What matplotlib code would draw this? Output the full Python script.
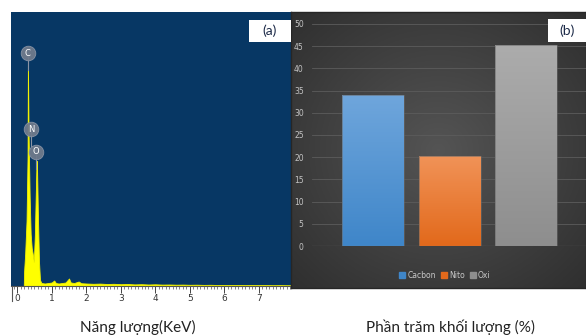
import numpy as np
import matplotlib
matplotlib.use("Agg")
import matplotlib.pyplot as plt
from matplotlib.patches import Rectangle
from matplotlib.lines import Line2D
from matplotlib.ticker import MultipleLocator

# ---- EDS spectrum (energy in keV, counts in arbitrary units) ----
energy_kev = [0.00, 0.19, 0.20, 0.23, 0.27, 0.30, 0.31, 0.33, 0.36, 0.39, 0.42,
              0.45, 0.48, 0.51, 0.54, 0.56, 0.57, 0.60, 0.63, 0.66, 0.70,
              0.80, 0.90, 1.00, 1.07, 1.12, 1.20, 1.30, 1.40, 1.50, 1.55,
              1.65, 1.78, 1.85, 2.00, 2.20, 2.40, 2.60, 2.80, 3.00, 3.20,
              3.40, 3.60, 3.80, 4.00, 4.20, 4.40, 4.60, 4.80, 5.00, 5.20,
              5.40, 5.60, 5.80, 6.00, 6.20, 6.40, 6.60, 6.80, 7.00, 7.20,
              7.40, 7.60, 7.80, 7.97]
counts = [0, 0, 150, 320, 650, 1300, 2250, 1500, 900, 520, 380,
          320, 240, 500, 950, 1250, 1250, 700, 250, 60, 30,
          25, 30, 35, 55, 30, 25, 30, 35, 75, 35,
          30, 45, 28, 25, 22, 24, 20, 22, 18, 20,
          16, 18, 15, 17, 14, 15, 13, 14, 12, 13,
          11, 12, 10, 11, 10, 11, 9, 10, 9, 10,
          8, 9, 8, 8]

peak_labels = ["C", "N", "O"]
peak_energy = [0.31, 0.40, 0.55]
peak_label_counts = [2330, 1570, 1340]

# ---- mass percentage of elements ----
elements = ["Cacbon", "Nito", "Oxi"]
mass_percent = [34.1, 20.3, 45.3]
tick_values = [0, 5, 10, 15, 20, 25, 30, 35, 40, 45, 50]

W, H = 586, 336


def box(x0, y0, x1, y1):
    return [x0 / W, 1 - y1 / H, (x1 - x0) / W, (y1 - y0) / H]


fig = plt.figure(figsize=(W / 100, H / 100), dpi=100)
fig.patch.set_facecolor("white")

# ================= (a) EDS spectrum =================
ax1 = fig.add_axes(box(11, 12, 291, 286))
ax1.set_facecolor("#073764")
ax1.fill_between(energy_kev, counts, 0, color="#ffff00", lw=0.6,
                 edgecolor="#f2f200")
ax1.set_xlim(-0.18, 7.93)
ax1.set_ylim(0, 2740)
for s in ("top", "left", "right"):
    ax1.spines[s].set_visible(False)
ax1.spines["bottom"].set_color("#555555")
ax1.spines["bottom"].set_linewidth(0.8)
ax1.set_yticks([])
ax1.xaxis.set_major_locator(MultipleLocator(1))
ax1.xaxis.set_minor_locator(MultipleLocator(0.1))
ax1.tick_params(axis="x", which="major", length=5, width=0.7,
                color="#444444", labelsize=6.5, labelcolor="#333333", pad=1)
ax1.tick_params(axis="x", which="minor", length=2.5, width=0.5,
                color="#555555")
ax1.set_xticks(range(0, 8))

for lab, e, c in zip(peak_labels, peak_energy, peak_label_counts):
    ax1.plot([e, e], [c - 170, c], color="#8a94a6", lw=0.8, zorder=3)
    ax1.plot(e, c, "o", ms=10.5, mfc="#6f7a8c", mec="#8a94a6", mew=0.6,
             alpha=0.95, zorder=4)
    ax1.text(e, c, lab, ha="center", va="center", fontsize=6,
             color="white", zorder=5, family="DejaVu Sans")

# vertical stub at the left end of the energy scale
fig.add_artist(Line2D([12 / W, 12 / W], [1 - 286 / H, 1 - 301 / H],
                      color="#555555", lw=0.8))

# ================= (b) bar chart =================
bg = fig.add_axes(box(291, 12, 586, 288))
yy, xx = np.mgrid[0:1:200j, 0:1:300j]
r = np.sqrt(((xx - 0.5) / 0.75) ** 2 + ((yy - 0.5) / 0.75) ** 2)
grad = np.clip(1 - r, 0, 1)
bg.imshow(grad, cmap=matplotlib.colors.LinearSegmentedColormap.from_list(
    "bgc", ["#2f2f2f", "#545454"]), aspect="auto", extent=[0, 1, 0, 1])
bg.set_xticks([])
bg.set_yticks([])
for s in bg.spines.values():
    s.set_color("#262626")
    s.set_linewidth(1.0)

ax2 = fig.add_axes(box(312, 24, 586, 246))
ax2.patch.set_alpha(0)
x = np.arange(len(elements))
bar_width = 0.81
bars = ax2.bar(x, mass_percent, width=bar_width, color="none", zorder=3,
               edgecolor="#6a6a6a", linewidth=0.4)

bar_gradients = [("#6fa6dc", "#3f86c9"), ("#f19358", "#e2691b"),
                 ("#acacac", "#8e8e8e")]
for b, (top_c, bot_c) in zip(bars, bar_gradients):
    x0, w, h = b.get_x(), b.get_width(), b.get_height()
    cmap = matplotlib.colors.LinearSegmentedColormap.from_list(
        "g", [bot_c, top_c])
    im = ax2.imshow(np.linspace(0, 1, 100).reshape(-1, 1), cmap=cmap,
                    origin="lower", aspect="auto",
                    extent=[x0, x0 + w, 0, h], zorder=2)
    im.set_clip_path(b)
ax2.set_xlim(-0.80, 2.78)
ax2.set_ylim(0, 50)

ax2.set_yticks(tick_values)
ax2.yaxis.grid(True, color="#5c5c5c", lw=0.6)
ax2.set_axisbelow(True)
ax2.axhline(0, color="#8a8a8a", lw=0.8, zorder=4)
ax2.set_xticks([])
for s in ax2.spines.values():
    s.set_visible(False)
ax2.tick_params(axis="y", length=0, labelsize=5.5, labelcolor="#c4c4c4",
                pad=6)
for t in ax2.get_yticklabels():
    t.set_clip_on(False)

handles = [Rectangle((0, 0), 1, 1, color=c[1]) for c in bar_gradients]
fig.legend(handles, elements, loc="center",
           bbox_to_anchor=(445 / W, 1 - 275 / H), ncol=3, frameon=False,
           fontsize=5.5, labelcolor="#c8c8c8", handlelength=0.8,
           handleheight=0.8, handletextpad=0.3, columnspacing=0.6)

# panel tags
for (x0, y0, x1, y1), tag in [((249, 20, 291, 42), "(a)"),
                              ((548, 19, 586, 42), "(b)")]:
    fig.add_artist(Rectangle((x0 / W, 1 - y1 / H), (x1 - x0) / W,
                             (y1 - y0) / H, transform=fig.transFigure,
                             facecolor="white", edgecolor="none", zorder=10))
    fig.text((x0 + x1) / 2 / W, 1 - (y0 + y1) / 2 / H, tag, ha="center",
             va="center", fontsize=10, color="#1c2a48", zorder=11,
             family="Lato")

# axis captions under the panels
fig.text(138 / W, 1 - 327 / H, "Năng lượng(KeV)", ha="center", va="center",
         fontsize=11, color="#222222", family="Lato")
fig.text(451 / W, 1 - 327 / H, "Phần trăm khối lượng (%)", ha="center",
         va="center", fontsize=11, color="#222222", family="Lato")

fig.savefig("out.png", dpi=100)
